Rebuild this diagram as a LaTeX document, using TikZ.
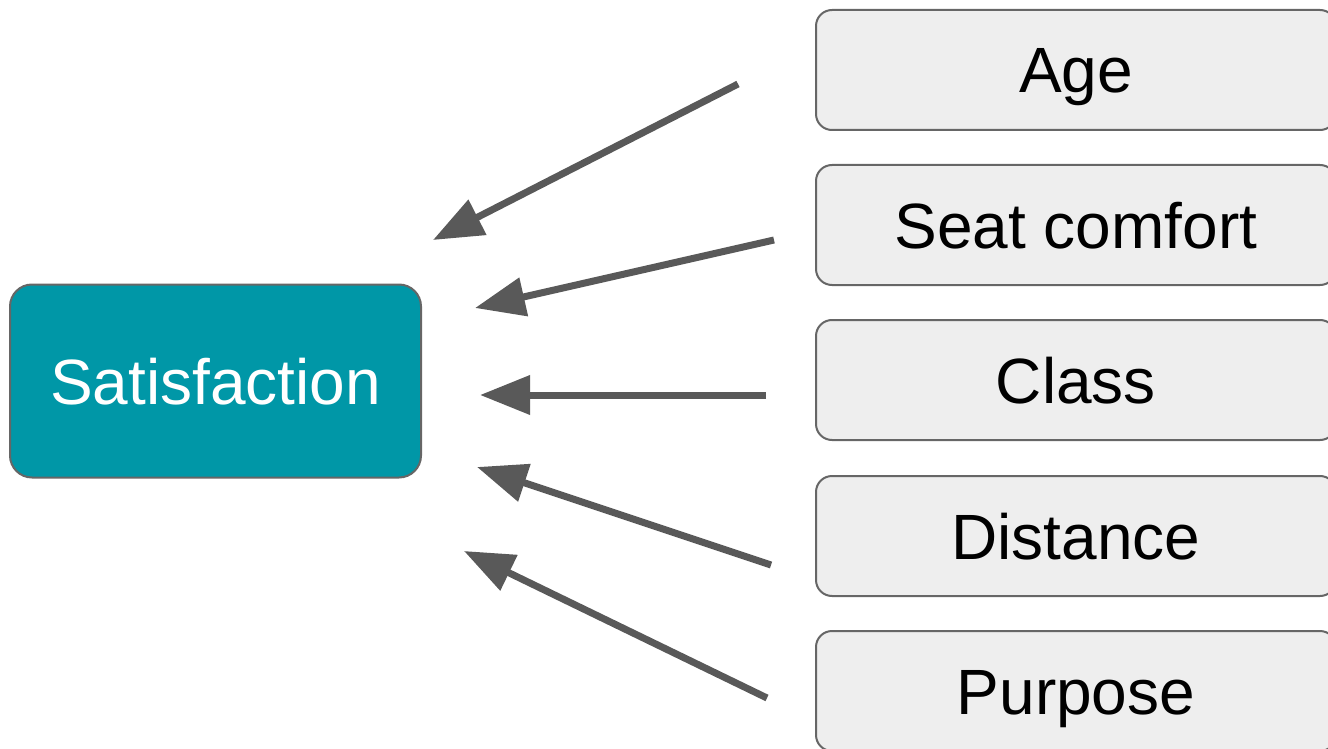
\documentclass[tikz,border=0pt]{standalone}
\usepackage{fontspec}
\setmainfont{Liberation Sans}
\usetikzlibrary{arrows.meta}
\definecolor{teal}{HTML}{0097A7}
\definecolor{boxgray}{HTML}{EEEEEE}
\definecolor{edge}{HTML}{666666}
\definecolor{arrowgray}{HTML}{595959}
\begin{document}
\begin{tikzpicture}[x=1pt,y=-1pt,
  boxtext/.style={font=\fontsize{64}{70}\selectfont,inner sep=0pt,
    text height=46pt,text depth=0pt},
  target/.style={boxtext,draw=edge,line width=2pt,fill=teal,rounded corners=22pt,
    minimum width=411pt,minimum height=193pt,text=white},
  factor/.style={boxtext,draw=edge,line width=2pt,fill=boxgray,rounded corners=16pt,
    minimum width=520pt,minimum height=120pt,text=black},
  influence/.style={draw=arrowgray,line width=7pt,
    -{Triangle[length=50pt,width=38pt]}}]
  \clip (0,0) rectangle (1328,749);
  \useasboundingbox (0,0) rectangle (1328,749);

  % central outcome
  \node[target] (sat) at (215.5,381) {Satisfaction};

  % explanatory factors
  \node[factor] (age)  at (1076,70)  {Age};
  \node[factor] (seat) at (1076,225) {Seat comfort};
  \node[factor] (cls)  at (1076,380) {Class};
  \node[factor] (dist) at (1076,536) {Distance};
  \node[factor] (purp) at (1076,691) {Purpose};

  % arrow tails and tips
  \coordinate (a1s) at (738,84);  \coordinate (a1e) at (433,240);
  \coordinate (a2s) at (774,240); \coordinate (a2e) at (475,308);
  \coordinate (a3s) at (766,395); \coordinate (a3e) at (480,395);
  \coordinate (a4s) at (771,565); \coordinate (a4e) at (477,467);
  \coordinate (a5s) at (767,698); \coordinate (a5e) at (464,551);

  \draw[influence] (a1s) -- (a1e);
  \draw[influence] (a2s) -- (a2e);
  \draw[influence] (a3s) -- (a3e);
  \draw[influence] (a4s) -- (a4e);
  \draw[influence] (a5s) -- (a5e);
\end{tikzpicture}
\end{document}
